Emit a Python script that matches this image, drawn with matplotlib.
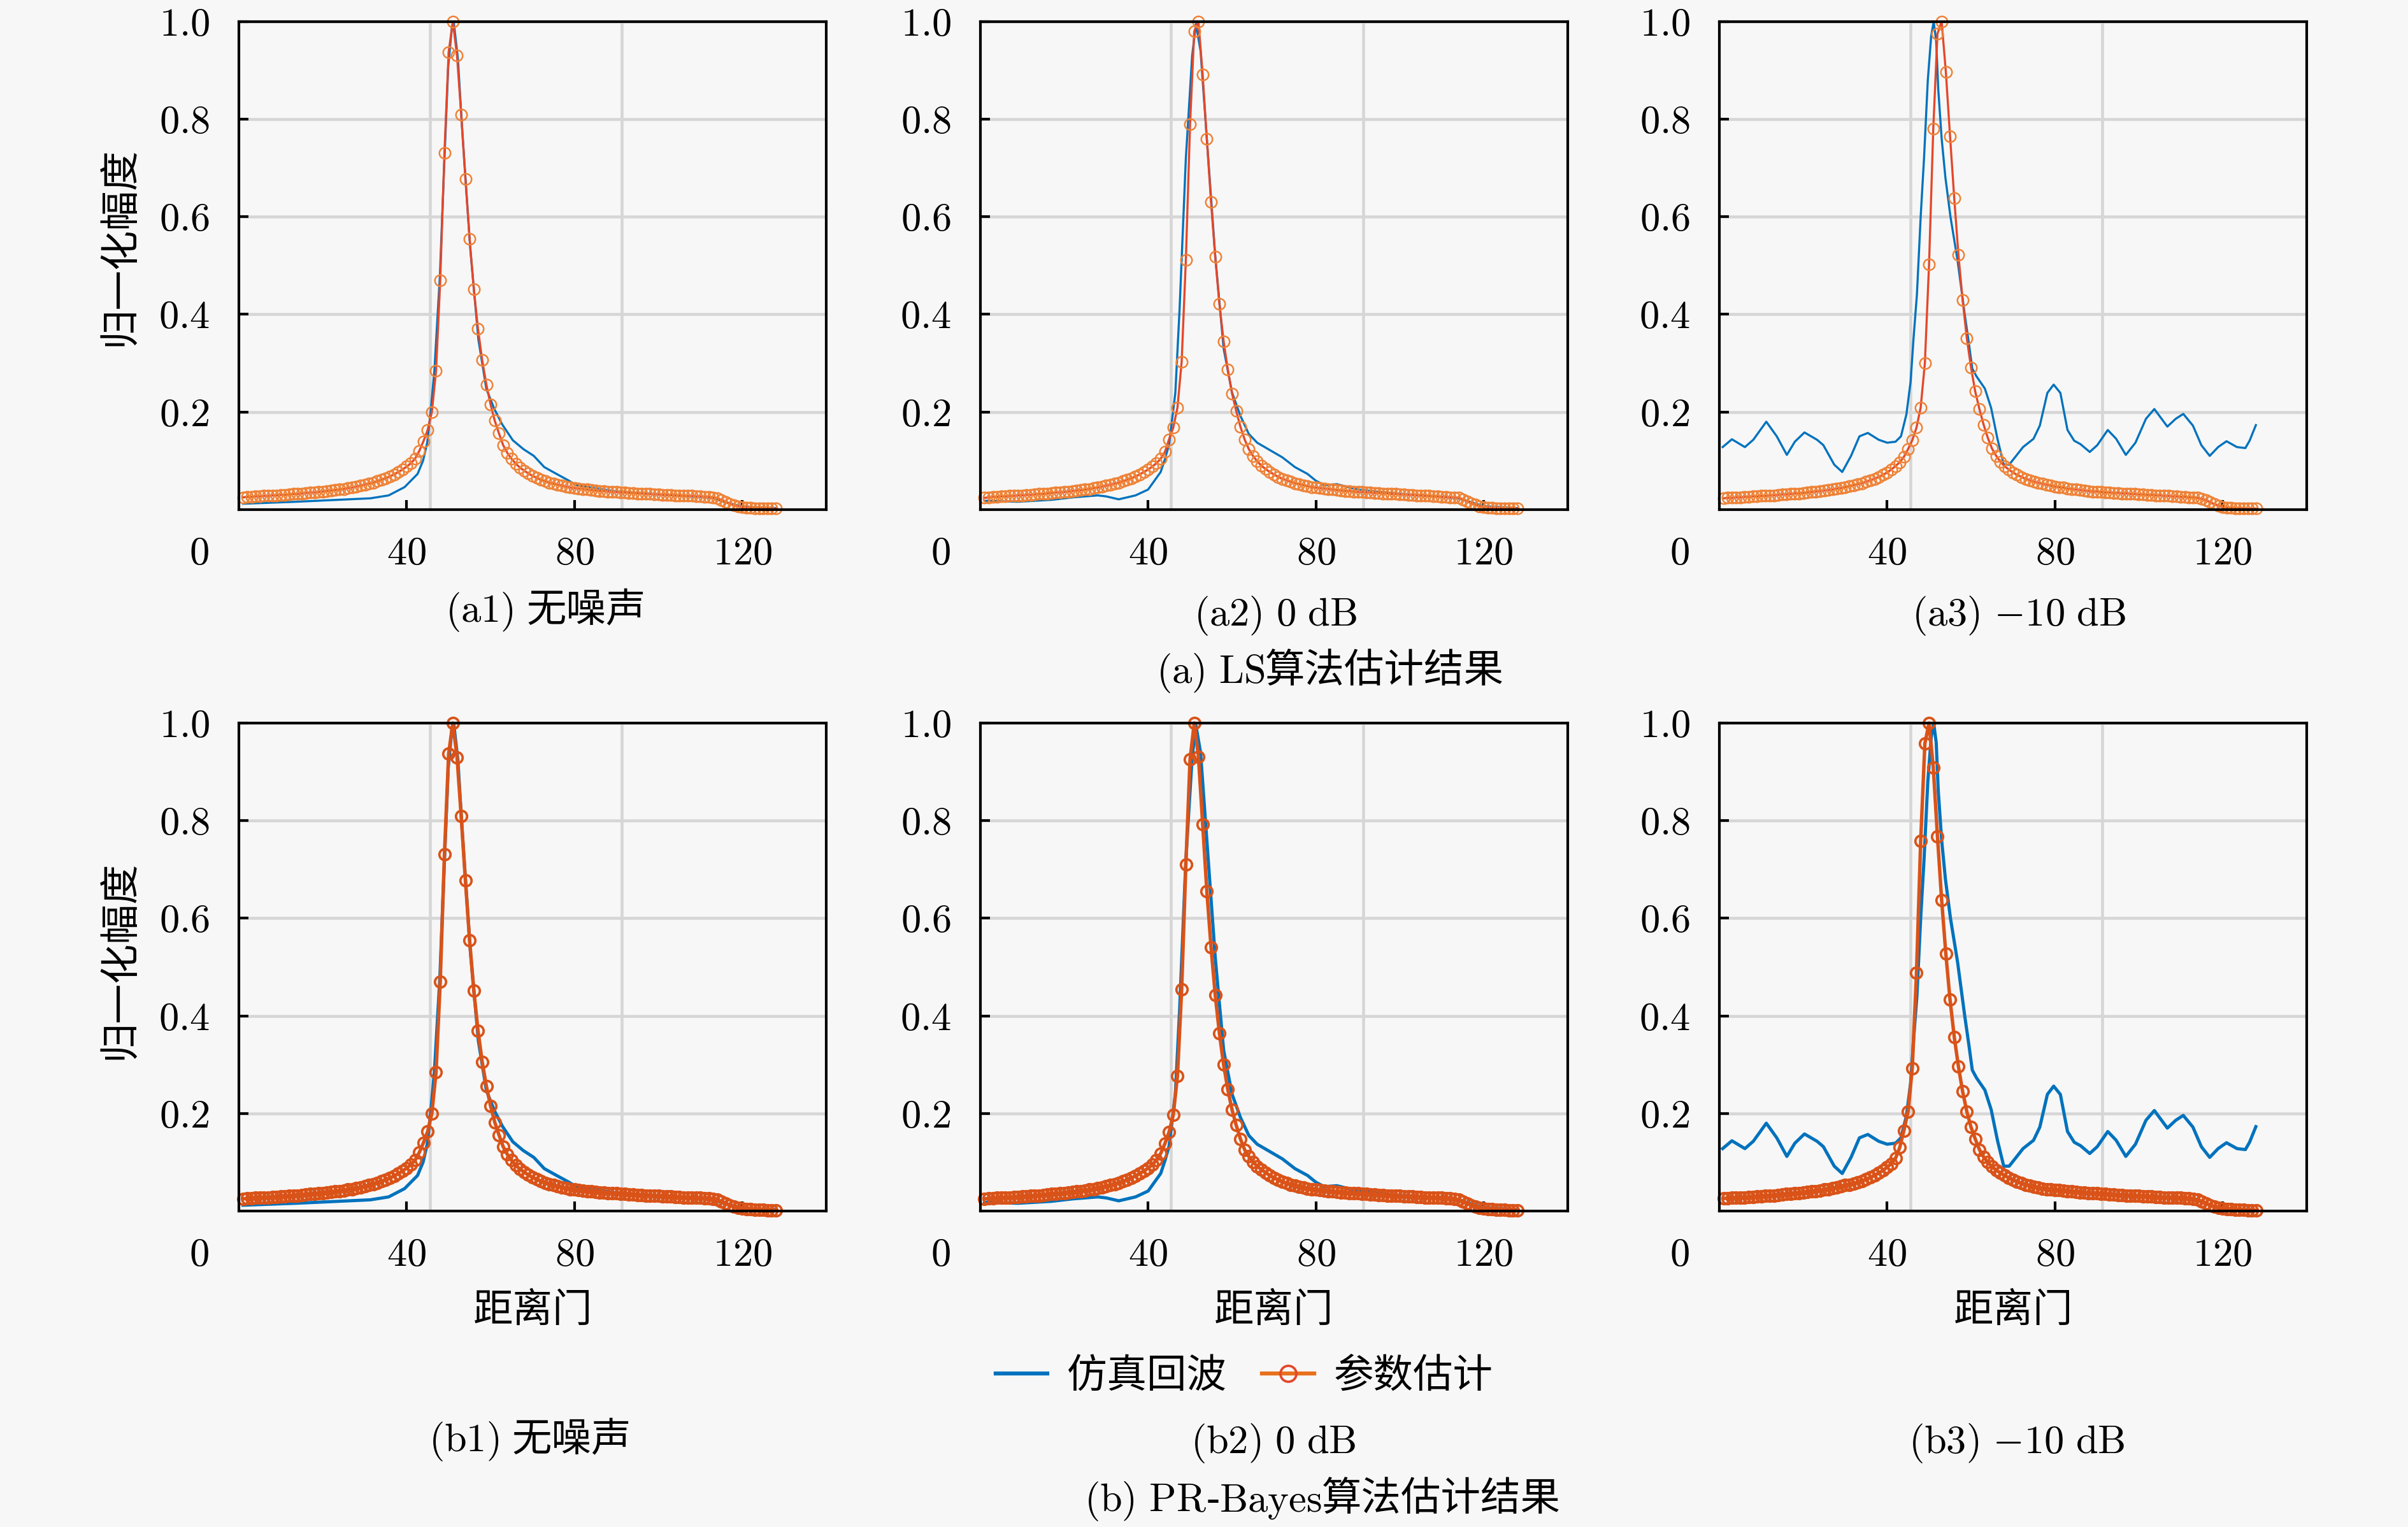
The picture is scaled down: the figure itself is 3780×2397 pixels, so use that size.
import numpy as np
import matplotlib.pyplot as plt
from matplotlib.lines import Line2D
from matplotlib.offsetbox import TextArea, HPacker, AnnotationBbox

plt.rcParams['font.family'] = ['Liberation Serif', 'Noto Sans CJK SC']
plt.rcParams['mathtext.fontset'] = 'cm'
CJK = 'Noto Sans CJK SC'
SERIF = 'Liberation Serif'
BG = '#f7f7f7'

gates = np.arange(1, 129)

# simulated echo (key points)
echo_clean_x = [1, 13.6, 23.7, 31.3, 35.7, 39.5, 42.6, 43.9, 44.9, 45.7, 46.6, 47.9, 48.9, 49.9,
                50.8, 51.2, 52.2, 53.3, 55.2, 57.1, 59.0, 60.9, 62.8, 65.3, 67.8, 70.3, 72.8,
                75.3, 78.5, 80.4, 90, 100, 110, 113, 116, 119, 122, 128]
echo_clean_y = [0.012, 0.016, 0.020, 0.023, 0.029, 0.046, 0.073, 0.100, 0.137, 0.200, 0.284,
                0.476, 0.696, 0.907, 0.990, 1.000, 0.925, 0.770, 0.530, 0.348, 0.247, 0.206,
                0.174, 0.142, 0.124, 0.110, 0.087, 0.075, 0.060, 0.050, 0.037, 0.031, 0.026,
                0.024, 0.015, 0.008, 0.005, 0.003]

echo_0db_x = [1, 9, 13, 17, 22, 28, 30, 33, 37, 40, 41, 43, 44, 45, 46.5, 47.5, 49, 50.5, 51.4,
              52.5, 54, 56, 58, 60, 62, 64, 66, 69, 72, 75, 78, 80, 82, 85, 90, 100, 110, 114,
              117, 120, 128]
echo_0db_y = [0.018, 0.016, 0.018, 0.020, 0.025, 0.029, 0.027, 0.021, 0.029, 0.041, 0.053,
              0.077, 0.103, 0.133, 0.240, 0.410, 0.720, 0.930, 0.995, 0.940, 0.760, 0.520,
              0.330, 0.240, 0.192, 0.155, 0.137, 0.122, 0.107, 0.087, 0.073, 0.059, 0.050,
              0.052, 0.041, 0.032, 0.026, 0.023, 0.015, 0.007, 0.003]

echo_m10_x = [0.8, 3.0, 6.1, 8.1, 11.2, 13.7, 16.1, 18.0, 20.3, 23.3, 24.8, 27.4, 29.3, 31.4,
              33.4, 35.4, 38.0, 40.0, 42.0, 43.3, 44.6, 45.6, 46.3, 47.1, 48.0, 48.8, 49.7,
              50.5, 51.1, 51.7, 52.2, 53.0, 53.9, 55.1, 56.8, 58.5, 59.5, 60.3, 61.3, 63.3,
              64.8, 66.3, 67.8, 69.1, 72.4, 74.9, 76.4, 78.2, 79.7, 81.3, 83.0, 84.6, 86.1,
              88.3, 90.1, 92.6, 94.6, 96.9, 99.2, 101.7, 103.7, 106.8, 108.8, 110.6, 112.9,
              114.9, 116.9, 118.9, 120.9, 123.4, 125.4, 126.4, 127.9]
echo_m10_y = [0.128, 0.144, 0.128, 0.143, 0.180, 0.150, 0.112, 0.139, 0.158, 0.143, 0.132,
              0.092, 0.077, 0.110, 0.150, 0.157, 0.143, 0.137, 0.139, 0.150, 0.195, 0.262,
              0.351, 0.440, 0.600, 0.720, 0.880, 0.970, 1.000, 0.960, 0.860, 0.760, 0.680,
              0.600, 0.510, 0.400, 0.340, 0.289, 0.273, 0.248, 0.208, 0.145, 0.092, 0.092,
              0.128, 0.145, 0.172, 0.239, 0.256, 0.239, 0.163, 0.141, 0.134, 0.118, 0.132,
              0.163, 0.145, 0.112, 0.137, 0.186, 0.206, 0.170, 0.186, 0.196, 0.172, 0.132,
              0.110, 0.128, 0.140, 0.128, 0.126, 0.141, 0.173]

# parameter estimates, one value per range gate 1..128
tail_left = [0.025, 0.026, 0.026, 0.027, 0.027, 0.028, 0.028, 0.029, 0.029, 0.030,
             0.030, 0.031, 0.032, 0.032, 0.033, 0.034, 0.035, 0.035, 0.036, 0.037,
             0.038, 0.039, 0.040, 0.041, 0.042, 0.044, 0.045, 0.047, 0.049, 0.051,
             0.053, 0.055, 0.058, 0.061, 0.064, 0.068, 0.072, 0.077, 0.082, 0.088]
tail_right = [0.043, 0.042, 0.041, 0.040, 0.039, 0.038, 0.038, 0.037, 0.036, 0.036,
              0.035, 0.035, 0.034, 0.034, 0.033, 0.033, 0.032, 0.032, 0.031, 0.031,
              0.030, 0.030, 0.030, 0.029, 0.029, 0.028, 0.028, 0.028, 0.027, 0.027,
              0.026, 0.026, 0.025, 0.023, 0.020, 0.016, 0.012, 0.009, 0.007, 0.005,
              0.004, 0.004, 0.003, 0.003, 0.003, 0.002, 0.002, 0.002]

peak_noiseless = [0.095, 0.104, 0.120, 0.140, 0.163, 0.200, 0.284, 0.470, 0.731, 0.937,
                  1.000, 0.930, 0.809, 0.677, 0.555, 0.452, 0.370, 0.306, 0.256, 0.215,
                  0.182, 0.156, 0.132, 0.116, 0.104, 0.094, 0.086, 0.080, 0.074, 0.069,
                  0.065, 0.061, 0.058, 0.055, 0.053, 0.051, 0.049, 0.047, 0.045, 0.044]
est_noiseless = tail_left + peak_noiseless + tail_right

est_ls_0db = [0.024, 0.025, 0.026, 0.026, 0.027, 0.027, 0.028, 0.028, 0.029, 0.029,
              0.030, 0.030, 0.031, 0.032, 0.032, 0.033, 0.034, 0.035, 0.035, 0.036,
              0.037, 0.038, 0.039, 0.040, 0.041, 0.042, 0.044, 0.045, 0.047, 0.049,
              0.051, 0.053, 0.055, 0.058, 0.061, 0.064, 0.068, 0.072, 0.077, 0.082,
              0.088, 0.095, 0.104, 0.118, 0.144, 0.168, 0.209, 0.303, 0.511, 0.789,
              0.980, 1.000, 0.892, 0.759, 0.630, 0.518, 0.421, 0.345, 0.287, 0.238,
              0.202, 0.170, 0.144, 0.124, 0.110, 0.099, 0.090, 0.083, 0.077, 0.072,
              0.067, 0.063, 0.060, 0.057, 0.054, 0.052, 0.050, 0.048, 0.046, 0.045,
              0.044, 0.043, 0.042, 0.041, 0.040, 0.039, 0.038, 0.038, 0.037, 0.036,
              0.036, 0.035, 0.035, 0.034, 0.034, 0.033, 0.033, 0.032, 0.032, 0.031,
              0.031, 0.030, 0.030, 0.029, 0.029, 0.028, 0.028, 0.027, 0.027, 0.026,
              0.026, 0.025, 0.025, 0.024, 0.021, 0.017, 0.013, 0.010, 0.007, 0.005,
              0.004, 0.004, 0.003, 0.003, 0.003, 0.002, 0.002, 0.002]

est_ls_m10 = [0.023, 0.024, 0.024, 0.025, 0.025, 0.026, 0.026, 0.027, 0.027, 0.028,
              0.028, 0.029, 0.029, 0.030, 0.031, 0.031, 0.032, 0.033, 0.033, 0.034,
              0.035, 0.036, 0.037, 0.038, 0.039, 0.040, 0.041, 0.043, 0.044, 0.046,
              0.048, 0.050, 0.052, 0.054, 0.057, 0.060, 0.063, 0.067, 0.071, 0.076,
              0.082, 0.089, 0.097, 0.108, 0.124, 0.142, 0.168, 0.209, 0.300, 0.503,
              0.780, 0.975, 1.000, 0.897, 0.765, 0.638, 0.522, 0.429, 0.351, 0.291,
              0.242, 0.206, 0.174, 0.147, 0.125, 0.110, 0.098, 0.089, 0.082, 0.076,
              0.071, 0.067, 0.063, 0.060, 0.057, 0.055, 0.053, 0.051, 0.049, 0.047,
              0.046, 0.045, 0.043, 0.042, 0.041, 0.040, 0.039, 0.038, 0.037, 0.037,
              0.036, 0.035, 0.035, 0.034, 0.034, 0.033, 0.033, 0.032, 0.032, 0.031,
              0.031, 0.030, 0.030, 0.029, 0.029, 0.028, 0.028, 0.027, 0.027, 0.026,
              0.026, 0.025, 0.025, 0.024, 0.022, 0.019, 0.015, 0.011, 0.008, 0.005,
              0.004, 0.004, 0.003, 0.003, 0.003, 0.002, 0.002, 0.002]

peak_pr_0db = [0.095, 0.104, 0.118, 0.138, 0.162, 0.197, 0.277, 0.454, 0.710, 0.926,
               1.000, 0.931, 0.793, 0.656, 0.541, 0.443, 0.364, 0.300, 0.249, 0.208,
               0.176, 0.148, 0.126, 0.112, 0.101, 0.092, 0.085, 0.079, 0.073, 0.068,
               0.064, 0.060, 0.057, 0.054, 0.052, 0.050, 0.048, 0.046, 0.045, 0.044]
est_pr_0db = tail_left + peak_pr_0db + tail_right

left_pr_m10 = [0.026, 0.026, 0.027, 0.027, 0.028, 0.028, 0.029, 0.029, 0.030, 0.030,
               0.031, 0.032, 0.032, 0.033, 0.034, 0.035, 0.035, 0.036, 0.037, 0.038,
               0.039, 0.040, 0.041, 0.042, 0.044, 0.045, 0.047, 0.049, 0.051, 0.053,
               0.054, 0.056, 0.059, 0.062, 0.065, 0.069, 0.073, 0.078, 0.083, 0.090]
peak_pr_m10 = [0.097, 0.108, 0.130, 0.165, 0.204, 0.293, 0.488, 0.758, 0.958, 1.000,
               0.909, 0.768, 0.637, 0.527, 0.433, 0.357, 0.296, 0.245, 0.204, 0.172,
               0.148, 0.126, 0.111, 0.100, 0.091, 0.084, 0.078, 0.073, 0.068, 0.064,
               0.060, 0.057, 0.054, 0.052, 0.050, 0.048, 0.046, 0.045, 0.044, 0.043]
est_pr_m10 = left_pr_m10 + peak_pr_m10 + tail_right

yticks = [0.2, 0.4, 0.6, 0.8, 1.0]
xticks = [40, 80, 120]
vgrid = [45.5, 91.3]

fig = plt.figure(figsize=(12.6, 7.99), dpi=300, facecolor=BG)

lefts = [0.0992, 0.4071, 0.7140]
bottoms = [0.6663, 0.2069]
W, H = 0.2439, 0.3196

panels = [
    (0, 0, echo_clean_x, echo_clean_y, est_noiseless),
    (0, 1, echo_0db_x, echo_0db_y, est_ls_0db),
    (0, 2, echo_m10_x, echo_m10_y, est_ls_m10),
    (1, 0, echo_clean_x, echo_clean_y, est_noiseless),
    (1, 1, echo_0db_x, echo_0db_y, est_pr_0db),
    (1, 2, echo_m10_x, echo_m10_y, est_pr_m10),
]

for row, col, ex, ey, est in panels:
    ax = fig.add_axes([lefts[col], bottoms[row], W, H])
    ax.set_facecolor(BG)
    ax.set_xlim(0, 140)
    ax.set_ylim(0, 1.0)
    ax.set_yticks(yticks)
    ax.set_yticklabels(['$%.1f$' % v for v in yticks])
    ax.set_xticks(xticks)
    ax.set_xticklabels(['$%d$' % v for v in xticks])
    ax.tick_params(direction='in', length=3.5, width=1.0, labelsize=15)
    ax.tick_params(axis='x', pad=10)
    ax.tick_params(axis='y', pad=11)
    ax.grid(axis='y', color='#d6d6d6', lw=1.1, zorder=0)
    for xv in vgrid:
        ax.axvline(xv, color='#d6d6d6', lw=1.1, zorder=0)
    for sp in ax.spines.values():
        sp.set_linewidth(1.0)
        sp.set_color('black')
        sp.set_zorder(5)

    if row == 0:
        ax.plot(ex, ey, color='#0072bd', lw=0.8, zorder=2)
        ax.plot(gates, est, color='#e4472a', lw=0.8, marker='o', ms=4.2,
                mfc='none', mec='#ee8236', mew=0.6, zorder=3, clip_on=False)
    else:
        ax.plot(ex, ey, color='#0072bd', lw=1.2, zorder=2)
        ax.plot(gates, est, color='#d95319', lw=1.3, marker='o', ms=4.2,
                mfc='none', mec='#d95319', mew=0.9, zorder=3, clip_on=False)

    ax.annotate('$0$', xy=(-0.068, 0), xycoords='axes fraction', xytext=(0, -10),
                textcoords='offset points', ha='center', va='top', fontsize=15)

# y labels
for yc in [0.8386, 0.3713]:
    fig.text(0.0497, yc, '归一化幅度', rotation=90, ha='center', va='center',
             fontsize=15, family=CJK)

# x labels of bottom row
for xc in [0.2212, 0.5290, 0.8360]:
    fig.text(xc, 0.1418, '距离门', ha='center', va='center', fontsize=15, family=CJK)


def caption(x, y, parts, sep=0):
    boxes = [TextArea(t, textprops=dict(fontsize=15, family=f)) for t, f in parts]
    pack = HPacker(children=boxes, align='baseline', pad=0, sep=sep)
    ab = AnnotationBbox(pack, (x, y), xycoords='figure fraction', frameon=False,
                        box_alignment=(0.5, 0.5))
    fig.add_artist(ab)


caption(0.2265, 0.5995, [(r'$\mathrm{(a1)}$', SERIF), ('无噪声', CJK)], sep=5)
caption(0.5296, 0.5966, [(r'$\mathrm{(a2)\ 0\ dB}$', SERIF)])
caption(0.8384, 0.5966, [(r'$\mathrm{(a3)\ {-}10\ dB}$', SERIF)])
caption(0.5524, 0.5594, [(r'$\mathrm{(a)\ LS}$', SERIF), ('算法估计结果', CJK)])
caption(0.2201, 0.0563, [(r'$\mathrm{(b1)}$', SERIF), ('无噪声', CJK)], sep=5)
caption(0.5288, 0.0547, [(r'$\mathrm{(b2)\ 0\ dB}$', SERIF)])
caption(0.8376, 0.0547, [(r'$\mathrm{(b3)\ {-}10\ dB}$', SERIF)])
caption(0.5492, 0.0171, [(r'$\mathrm{(b)\ PR}$', SERIF), ('-', SERIF),
                         (r'$\mathrm{Bayes}$', SERIF), ('算法估计结果', CJK)])

# legend
handles = [Line2D([], [], color='#0072bd', lw=1.5),
           Line2D([], [], color='#e8701e', lw=1.5, marker='o', ms=6, mfc='none',
                  mec='#e4472a', mew=0.9)]
fig.legend(handles, ['仿真回波', '参数估计'], loc='center', bbox_to_anchor=(0.5167, 0.0989),
           ncol=2, frameon=False, prop={'family': CJK, 'size': 15},
           handlelength=1.3, handletextpad=0.5, columnspacing=0.9)

fig.savefig('out.png', dpi=300, facecolor=fig.get_facecolor())
